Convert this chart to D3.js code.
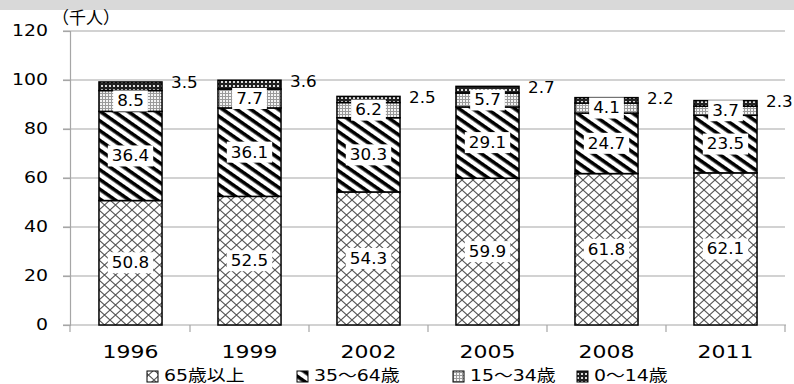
<!DOCTYPE html>
<html><head><meta charset="utf-8">
<script src="https://cdn.jsdelivr.net/npm/d3@7"></script>
<style>
html,body{margin:0;padding:0;background:#fff;}
text{font-family:"DejaVu Sans","Noto Sans CJK JP",sans-serif;fill:#000;}
</style></head>
<body><svg id="c" width="794" height="384"></svg>
<script>
const years = ["1996","1999","2002","2005","2008","2011"];
const seriesNames = ["65歳以上","35～64歳","15～34歳","0～14歳"];
const age65plus = [50.8,52.5,54.3,59.9,61.8,62.1];
const age35to64 = [36.4,36.1,30.3,29.1,24.7,23.5];
const age15to34 = [8.5,7.7,6.2,5.7,4.1,3.7];
const age0to14  = [3.5,3.6,2.5,2.7,2.2,2.3];
const yTicks = [0,20,40,60,80,100,120];
const unitLabel = "（千人）";

const svg = d3.select("#c");
const defs = svg.append("defs");

// patterns
const pCross = defs.append("pattern").attr("id","pCross").attr("patternUnits","userSpaceOnUse").attr("width",11).attr("height",10);
pCross.append("rect").attr("width",11).attr("height",10).attr("fill","#fff");
pCross.append("path").attr("d","M0,0L11,10M11,0L0,10").attr("stroke","#555").attr("stroke-width",1.1);

const pStripe = defs.append("pattern").attr("id","pStripe").attr("patternUnits","userSpaceOnUse").attr("width",10).attr("height",8).attr("patternTransform","rotate(35)");
pStripe.append("rect").attr("width",10).attr("height",8).attr("fill","#fff");
pStripe.append("rect").attr("y",0).attr("width",10).attr("height",3.6).attr("fill","#000");

const pDot = defs.append("pattern").attr("id","pDot").attr("patternUnits","userSpaceOnUse").attr("width",3).attr("height",3);
pDot.append("rect").attr("width",3).attr("height",3).attr("fill","#9a9a9a");
pDot.append("rect").attr("x",1).attr("y",1).attr("width",2).attr("height",2).attr("fill","#f4f4f4");

const pDark = defs.append("pattern").attr("id","pDark").attr("patternUnits","userSpaceOnUse").attr("width",4).attr("height",4);
pDark.append("rect").attr("width",4).attr("height",4).attr("fill","#222");
pDark.append("rect").attr("x",1).attr("y",1).attr("width",2).attr("height",2).attr("fill","#ddd");

const fills = ["url(#pCross)","url(#pStripe)","url(#pDot)","url(#pDark)"];

// top gray band
svg.append("rect").attr("x",0).attr("y",0).attr("width",794).attr("height",10).attr("fill","#d9d9d9");

const x = d3.scaleBand().domain(years).range([71,785]).paddingInner(0.47).paddingOuter(0.235);
const y = d3.scaleLinear().domain([0,120]).range([325,31]);

function sText(g, tx, ty, str, size, sx, anchor){
  return g.append("text").attr("transform",`translate(${tx},${ty}) scale(${sx},1)`)
    .attr("text-anchor",anchor||"middle").attr("dominant-baseline","central")
    .style("font-size",size+"px").text(str);
}

// gridlines
svg.append("g").selectAll("line").data(yTicks.filter(d=>d>0)).join("line")
  .attr("x1",63).attr("x2",785).attr("y1",d=>y(d)).attr("y2",d=>y(d))
  .attr("stroke","#a6a6a6").attr("stroke-width",1.2);

// y axis
const yAxis = svg.append("g").attr("transform","translate(70,0)")
  .call(d3.axisLeft(y).tickValues(yTicks).tickSize(7).tickFormat(""));
yAxis.select(".domain").attr("stroke","#a6a6a6").attr("stroke-width",1.2);
yAxis.selectAll(".tick line").attr("stroke","#a6a6a6").attr("stroke-width",1.2);
yTicks.forEach(t=>{ sText(svg,48,y(t),String(t),16,1.18,"end"); });

// x axis
svg.append("line").attr("x1",63).attr("x2",786).attr("y1",y(0)).attr("y2",y(0)).attr("stroke","#a6a6a6").attr("stroke-width",1.2);
svg.append("line").attr("x1",70).attr("x2",70).attr("y1",y(0)).attr("y2",y(0)+7).attr("stroke","#a6a6a6").attr("stroke-width",1.2);
const step = x.step();
const bounds = years.map(yr => x(yr) + x.bandwidth()/2 + step/2);
svg.append("g").selectAll("line").data(bounds).join("line")
  .attr("x1",d=>d).attr("x2",d=>d).attr("y1",y(0)).attr("y2",y(0)+7)
  .attr("stroke","#a6a6a6").attr("stroke-width",1.2);
years.forEach(yr=>{ sText(svg, x(yr)+x.bandwidth()/2, 352, yr, 18, 1.22); });

// unit label
sText(svg, 52, 18, unitLabel, 17, 1.0, "start");

// bars
const series = [age65plus, age35to64, age15to34, age0to14];
const barG = svg.append("g");
const labelG = svg.append("g");
years.forEach((yr,i)=>{
  let base = 0;
  series.forEach((s,k)=>{
    const v = s[i];
    const y0 = y(base), y1 = y(base+v);
    barG.append("rect").attr("x",x(yr)).attr("y",y1).attr("width",x.bandwidth()).attr("height",y0-y1)
      .attr("fill",fills[k]).attr("stroke","#000").attr("stroke-width",1.5);
    const cx = x(yr)+x.bandwidth()/2;
    if(k<3){
      const cy = (y0+y1)/2;
      const t = sText(labelG, cx, cy, v.toFixed(1), 16, 1.05);
      const bb = t.node().getBBox();
      const w = bb.width*1.05 + 8, h = 21;
      labelG.insert("rect", () => t.node()).attr("x",cx-w/2).attr("y",cy-h/2).attr("width",w).attr("height",h).attr("fill","#fff");
    } else {
      sText(labelG, x(yr)+x.bandwidth()+9, y1+1, v.toFixed(1), 16, 1.05, "start");
    }
    base += v;
  });
});

// legend
const legend = svg.append("g");
const legX = [147, 297, 453, 577];
seriesNames.forEach((n,k)=>{
  legend.append("rect").attr("x",legX[k]).attr("y",371).attr("width",11).attr("height",11)
    .attr("fill",fills[k]).attr("stroke","#000").attr("stroke-width",1);
  sText(legend, legX[k]+17, 376, n, 16, 1.18, "start");
});
</script></body></html>
